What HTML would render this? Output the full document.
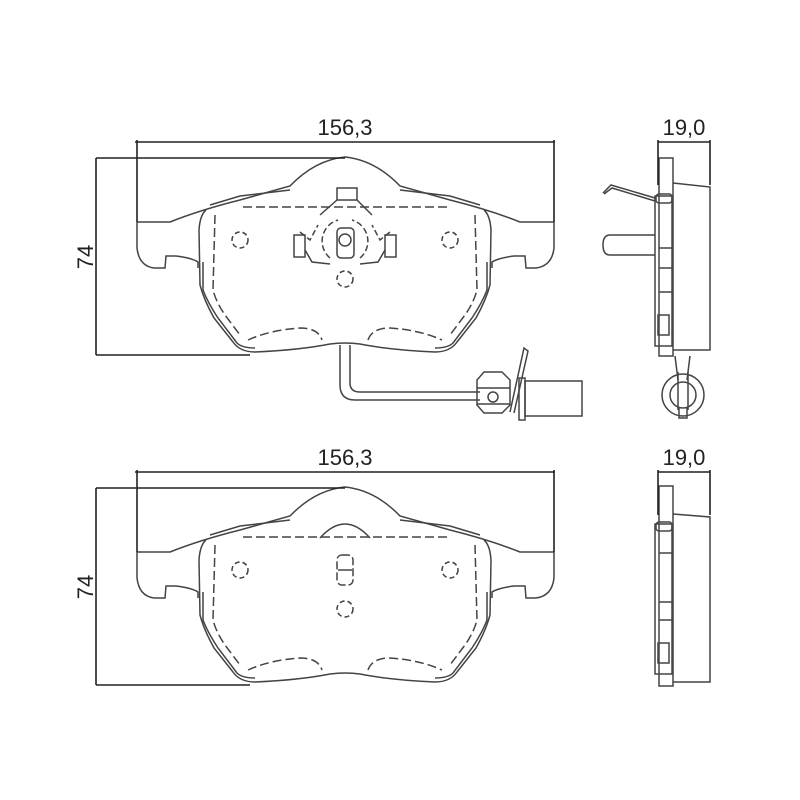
<!DOCTYPE html>
<html><head><meta charset="utf-8"><style>
body{margin:0;background:#fff}
svg{display:block}
text{font-family:"Liberation Sans",sans-serif;font-size:22px;fill:#222}
</style></head><body>
<svg width="800" height="800" viewBox="0 0 800 800" xmlns="http://www.w3.org/2000/svg">
<defs>
<g id="pad" fill="none" stroke="#444" stroke-width="1.5">
  <path d="M137,222 L170,222 Q200,210 240,200 L290,186 Q315,160 345,157 Q375,160 400,186 L450,200 Q490,210 520,222 L554,222 L554,248 Q552,266 536,268 L526,268 L525,256 L514,256 Q498,258 492,262 L492,268"/>
  <path d="M137,222 L137,248 Q139,266 154,268 L165,268 L166,256 L176,256 Q192,258 198,262 L198,268"/>
  <path d="M206,210 Q200,215 199,230 L200,285 Q204,300 214,318 L233,342 Q240,352 255,352 Q300,350 330,344 Q345,342 360,344 Q390,350 435,352 Q450,352 457,342 L476,318 Q486,300 490,285 L491,230 Q490,215 484,210"/>
  <path d="M210,205 L240,196 L290,190 M400,190 L450,196 L480,205"/>
  <path d="M203,262 L203,290 Q208,303 218,318 L237,343 Q242,348 255,348 M487,262 L487,290 Q482,303 472,318 L453,343 Q448,348 435,348"/>
  <path stroke-dasharray="9,4" d="M243,207 L448,207 M215,215 L213,290 Q216,302 225,315 L240,335 M475,215 L477,290 Q474,302 465,315 L450,335 M248,340 Q270,330 300,328 Q318,328 322,340 M368,340 Q372,328 390,328 Q420,330 442,340"/>
  <circle cx="240" cy="240" r="8" stroke-dasharray="5,3"/>
  <circle cx="450" cy="240" r="8" stroke-dasharray="5,3"/>
  <circle cx="345" cy="279" r="8" stroke-dasharray="5,3"/>
</g>
</defs>

<use href="#pad"/>
<g fill="none" stroke="#444" stroke-width="1.5">
  <rect x="337" y="188" width="20" height="12"/>
  <path d="M337,200 L320,215 M357,200 L372,215"/>
  <path d="M300,232 L310,240 L318,225 M390,232 L380,240 L372,225" stroke-dasharray="6,3"/>
  <rect x="294" y="235" width="11" height="22"/>
  <rect x="385" y="235" width="11" height="22"/>
  <path d="M305,250 L312,262 L330,264 M385,250 L378,262 L360,264"/>
  <path d="M330,258 A22,22 0 0 1 338,220 M360,258 A22,22 0 0 0 352,220" stroke-dasharray="6,3"/>
  <rect x="337" y="228" width="17" height="30" rx="4"/>
  <circle cx="345" cy="240" r="6"/>
  <path d="M340,345 L340,385 Q340,400 355,400 L480,400 M350,345 L350,383 Q350,392 360,392 L480,392"/>
  <path d="M484,372 L502,372 L510,380 L510,405 L502,413 L484,413 L477,405 L477,380 Z"/>
  <path d="M477,388 L510,388 M477,404 L510,404"/>
  <circle cx="493" cy="397" r="5"/>
  <path d="M510,412 L524,348 L528,351 L514,413"/>
  <rect x="519" y="378" width="6" height="42"/>
  <rect x="525" y="381" width="57" height="35"/>
</g>
<g fill="none" stroke="#222" stroke-width="1.6">
  <path d="M135,142 L555,142 M137,140 L137,222 M554,140 L554,222"/>
  <path d="M96,158 L345,158 M96,355 L250,355 M96,158 L96,355"/>
</g>
<text x="345" y="135" text-anchor="middle">156,3</text>
<text x="0" y="0" text-anchor="middle" transform="translate(93,257) rotate(-90)">74</text>

<g fill="none" stroke="#444" stroke-width="1.5">
  <rect x="659" y="158" width="14" height="198"/>
  <path d="M673,183 L710,187 L710,350 L673,350"/>
  <rect x="655" y="196" width="17" height="150"/>
  <rect x="656" y="194" width="16" height="9" rx="3"/>
  <path d="M659,248 L672,248 M659,268 L672,268 M659,292 L672,292"/>
  <rect x="658" y="315" width="11" height="20"/>
  <path d="M603,193 L611,185 L655,198 M604,194 L612,188 L655,201"/>
  <path d="M655,235 L610,235 Q603,235 603,245 Q603,255 610,255 L655,255"/>
  <path d="M675,356 L678,380 M690,356 L687,380"/>
  <circle cx="683" cy="395" r="21"/>
  <circle cx="683" cy="395" r="13"/>
  <path d="M678,372 L678,410 M688,372 L688,410"/>
  <path d="M679,408 L679,418 L687,418 L687,408"/>
</g>
<g fill="none" stroke="#222" stroke-width="1.6">
  <path d="M658,142 L710,142 M658,140 L658,185 M710,140 L710,185"/>
</g>
<text x="684" y="135" text-anchor="middle">19,0</text>

<use href="#pad" transform="translate(0,330)"/>
<g fill="none" stroke="#444" stroke-width="1.5">
  <path d="M320,538 Q345,510 370,538" />
  <rect x="337" y="555" width="16" height="30" rx="5" stroke-dasharray="8,3"/>
  <path d="M338,570 L352,570"/>
</g>
<g fill="none" stroke="#222" stroke-width="1.6">
  <path d="M135,472 L555,472 M137,470 L137,552 M554,470 L554,552"/>
  <path d="M96,488 L345,488 M96,685 L250,685 M96,488 L96,685"/>
</g>
<text x="345" y="465" text-anchor="middle">156,3</text>
<text x="0" y="0" text-anchor="middle" transform="translate(93,587) rotate(-90)">74</text>

<g fill="none" stroke="#444" stroke-width="1.5">
  <rect x="659" y="486" width="14" height="200"/>
  <path d="M673,514 L710,517 L710,682 L673,682"/>
  <rect x="655" y="524" width="17" height="150"/>
  <rect x="656" y="522" width="16" height="9" rx="3"/>
  <path d="M659,553 L672,553 M659,602 L672,602 M659,620 L672,620"/>
  <rect x="658" y="643" width="11" height="20"/>
</g>
<g fill="none" stroke="#222" stroke-width="1.6">
  <path d="M658,472 L710,472 M658,470 L658,515 M710,470 L710,515"/>
</g>
<text x="684" y="465" text-anchor="middle">19,0</text>
</svg>
</body></html>
